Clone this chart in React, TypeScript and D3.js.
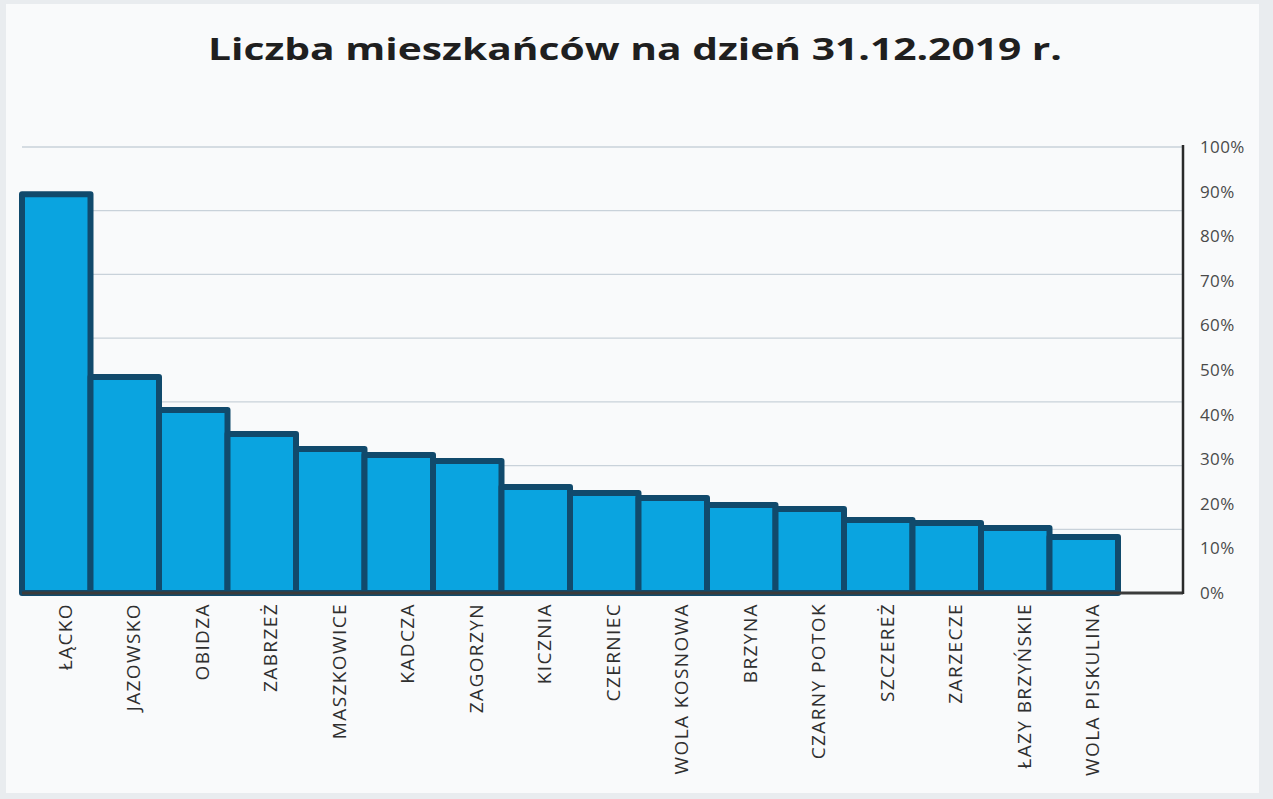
import React, { useEffect, useRef } from "react";
import * as d3 from "d3";

// village names, in chart order
const villages = [
  "ŁĄCKO",
  "JAZOWSKO",
  "OBIDZA",
  "ZABRZEŻ",
  "MASZKOWICE",
  "KADCZA",
  "ZAGORZYN",
  "KICZNIA",
  "CZERNIEC",
  "WOLA KOSNOWA",
  "BRZYNA",
  "CZARNY POTOK",
  "SZCZEREŻ",
  "ZARZECZE",
  "ŁAZY BRZYŃSKIE",
  "WOLA PISKULINA",
];

// residents
const residents = [
  3130, 1695, 1436, 1248, 1130, 1083, 1036, 832, 785, 745, 690, 659, 573, 549,
  510, 440,
];

const gridValues = [500, 1000, 1500, 2000, 2500, 3000, 3500];
const percentTicks = [0, 0.1, 0.2, 0.3, 0.4, 0.5, 0.6, 0.7, 0.8, 0.9, 1];

const App: React.FC = () => {
  const svgRef = useRef<SVGSVGElement>(null);

  useEffect(() => {
    if (!svgRef.current) return;
    const svg = d3.select(svgRef.current);
    svg.selectAll("*").remove();

    const width = 1273;
    const height = 799;
    const plotLeft = 22;
    const barsRight = 1118;
    const axisX = 1183;
    const baseY = 593;
    const topY = 147;

    svg.attr("width", width).attr("height", height);

    // scanned paper look
    svg
      .append("rect")
      .attr("width", width)
      .attr("height", height)
      .attr("fill", "#e9ecef");
    svg
      .append("rect")
      .attr("x", 6)
      .attr("y", 4)
      .attr("width", width - 20)
      .attr("height", height - 10)
      .attr("fill", "#f9fafb");

    const x = d3
      .scaleBand<string>()
      .domain(villages)
      .range([plotLeft, barsRight])
      .padding(0);

    const y = d3.scaleLinear().domain([0, 3500]).range([baseY, topY]);
    const yPct = d3.scaleLinear().domain([0, 1]).range([baseY, topY]);

    // gridlines
    svg
      .append("g")
      .selectAll("line")
      .data(gridValues)
      .join("line")
      .attr("x1", plotLeft)
      .attr("x2", axisX)
      .attr("y1", (d) => y(d))
      .attr("y2", (d) => y(d))
      .attr("stroke", "#c9d2da")
      .attr("stroke-width", 1.3);

    // bars
    svg
      .append("g")
      .selectAll("rect")
      .data(villages)
      .join("rect")
      .attr("x", (d) => x(d)!)
      .attr("y", (d, i) => y(residents[i]))
      .attr("width", x.bandwidth())
      .attr("height", (d, i) => baseY - y(residents[i]))
      .attr("fill", "#0aa4e0")
      .attr("stroke", "#114a6c")
      .attr("stroke-width", 6)
      .attr("stroke-linejoin", "round");

    // baseline
    svg
      .append("line")
      .attr("x1", plotLeft)
      .attr("x2", axisX)
      .attr("y1", baseY)
      .attr("y2", baseY)
      .attr("stroke", "#3b3b3b")
      .attr("stroke-width", 3);

    // right percent axis
    svg
      .append("line")
      .attr("x1", axisX)
      .attr("x2", axisX)
      .attr("y1", topY - 2)
      .attr("y2", baseY + 1)
      .attr("stroke", "#2a2a2a")
      .attr("stroke-width", 2.5);

    svg
      .append("g")
      .selectAll("text")
      .data(percentTicks)
      .join("text")
      .attr("x", axisX + 17)
      .attr("y", (d) => yPct(d))
      .attr("dy", "0.35em")
      .style("font-family", "'Open Sans', sans-serif")
      .style("font-size", "17px")
      .style("letter-spacing", "0.4px")
      .style("fill", "#4a4a4a")
      .text((d) => `${Math.round(d * 100)}%`);

    // category labels
    svg
      .append("g")
      .selectAll("text")
      .data(villages)
      .join("text")
      .attr("transform", (d) => {
        const cx = x(d)! + x.bandwidth() / 2 + 9;
        return `translate(${cx}, ${baseY + 10}) rotate(-90)`;
      })
      .attr("text-anchor", "end")
      .attr("dy", "0.35em")
      .style("font-family", "'Open Sans', sans-serif")
      .style("font-size", "19px")
      .style("letter-spacing", "1.4px")
      .style("fill", "#2f2f2f")
      .text((d) => d);

    // title
    svg
      .append("text")
      .attr("x", 208)
      .attr("y", 60)
      .attr("textLength", 854)
      .attr("lengthAdjust", "spacingAndGlyphs")
      .style("font-family", "'Open Sans', sans-serif")
      .style("font-weight", "bold")
      .style("font-size", "30px")
      .style("fill", "#1f1f1f")
      .text("Liczba mieszkańców na dzień 31.12.2019 r.");
  }, []);

  return (
    <div style={{ position: "absolute", left: 0, top: 0 }}>
      <svg ref={svgRef} style={{ display: "block" }}></svg>
    </div>
  );
};

export default App;
